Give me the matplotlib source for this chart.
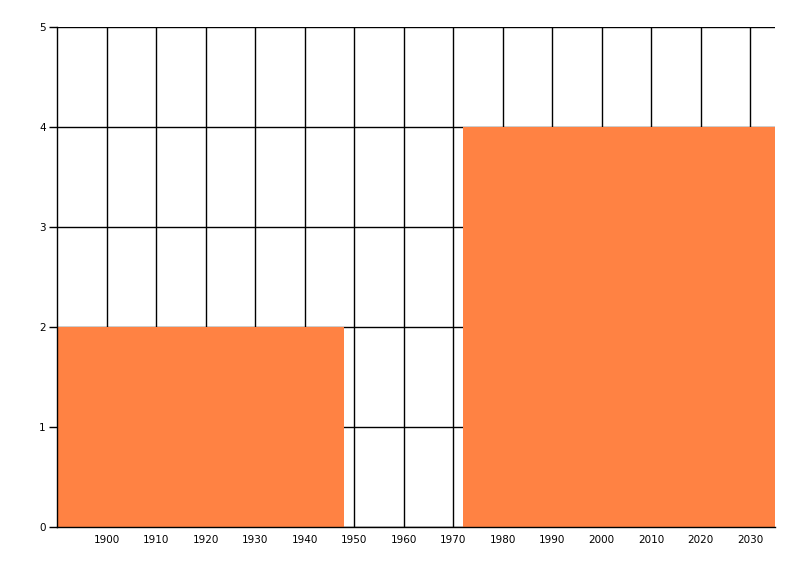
import matplotlib
matplotlib.use("Agg")
import matplotlib.pyplot as plt

bar_starts = [1890, 1972]
bar_ends = [1948, 2035]
bar_values = [2, 4]
x_ticks = list(range(1900, 2031, 10))
y_ticks = [0, 1, 2, 3, 4, 5]

fig = plt.figure(figsize=(8, 5.76), dpi=100)
ax = fig.add_axes([57/800, 1-527/576, (775-57)/800, 500/576])
widths = [e - s for s, e in zip(bar_starts, bar_ends)]
ax.bar(bar_starts, bar_values, width=widths, align='edge', color='#FF8243', zorder=2)
ax.set_xlim(1890, 2035)
ax.set_ylim(0, 5)
ax.set_xticks(x_ticks)
ax.set_yticks(y_ticks)
ax.set_xticklabels([str(t) for t in x_ticks], fontsize=7.5)
ax.set_yticklabels([str(t) for t in y_ticks], fontsize=7.5)
ax.grid(True, color='black', linewidth=1)
ax.set_axisbelow(True)
for s in ['top', 'right']:
    ax.spines[s].set_visible(False)
for s in ['left', 'bottom']:
    ax.spines[s].set_linewidth(1)
    ax.spines[s].set_zorder(3)
ax.tick_params(axis='x', length=0, pad=6)
ax.tick_params(axis='y', length=6, width=1, pad=2)
fig.savefig("out.png", dpi=100)
